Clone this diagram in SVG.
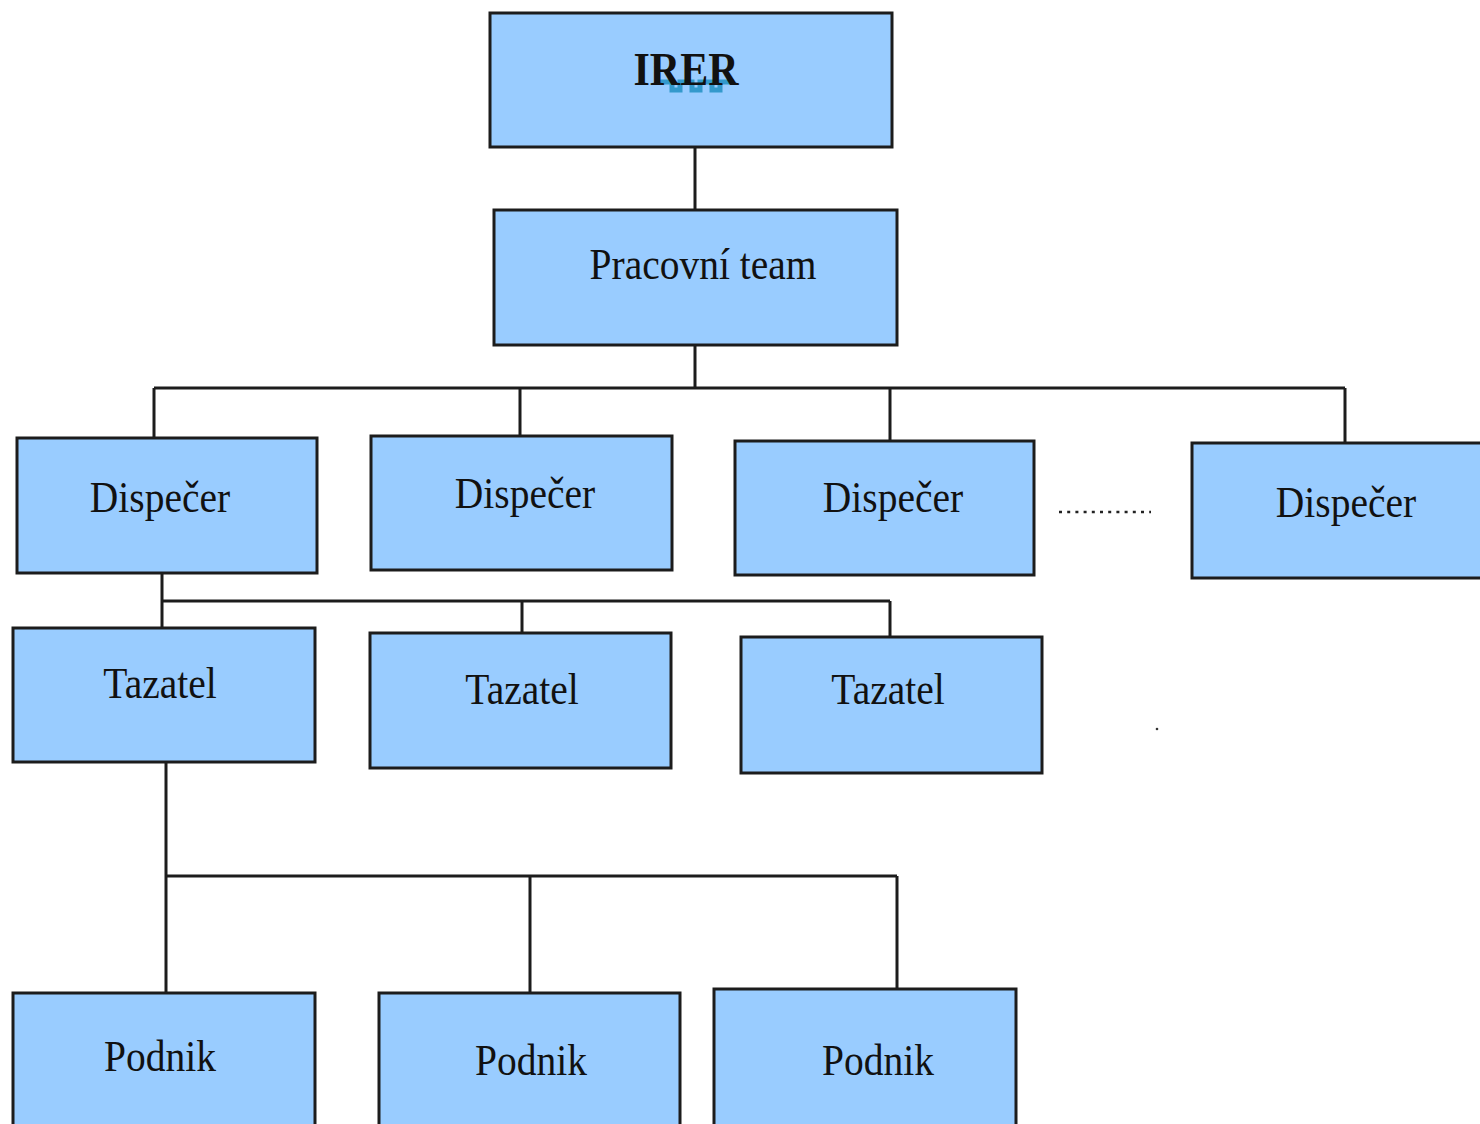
<svg xmlns="http://www.w3.org/2000/svg" width="1480" height="1124" viewBox="0 0 1480 1124">
<style>
.box{fill:#99CCFF;stroke:#1c1c1c;stroke-width:3}
.lbl{font-family:"Liberation Serif","Times New Roman",serif;font-size:39.5px;fill:#111;text-anchor:middle}
.b{font-weight:bold;font-size:42px}
.con{fill:none;stroke:#1c1c1c;stroke-width:3}
</style>
<rect width="1480" height="1124" fill="#ffffff"/>
<g id="connectors">
<path class="con" d="M695 147V210M695 345V388M154 388H1345M154 388V438M520 388V436M890 388V441M1345 388V443"/>
<path class="con" d="M162 573V628M162 601H890M522 601V633M890 601V637"/>
<path class="con" d="M166 762V993M166 876H897M530 876V993M897 876V989"/>
</g>
<g id="irer">
<rect class="box" x="490" y="13" width="402" height="134"/>
<path d="M660 82h12v8h8v-8h12v8h8v-8h12v8h8v-8h14" fill="none" stroke="#3399cc" stroke-width="5"/>
<text class="lbl b" transform="translate(686 85) scale(1 1.1)">IRER</text>
</g>
<g id="pracovni-team">
<rect class="box" x="494" y="210" width="403" height="135"/>
<text class="lbl" transform="translate(703 279) scale(1 1.12)">Pracovní team</text>
</g>
<g id="dispecer1">
<rect class="box" x="17" y="438" width="300" height="135"/>
<text class="lbl" transform="translate(160 512) scale(1 1.12)">Dispečer</text>
</g>
<g id="dispecer2">
<rect class="box" x="371" y="436" width="301" height="134"/>
<text class="lbl" transform="translate(525 508) scale(1 1.12)">Dispečer</text>
</g>
<g id="dispecer3">
<rect class="box" x="735" y="441" width="299" height="134"/>
<text class="lbl" transform="translate(893 512) scale(1 1.12)">Dispečer</text>
</g>
<g id="dots">
<line x1="1059" y1="512" x2="1151" y2="512" stroke="#222" stroke-width="2.5" stroke-dasharray="3 5.2"/>
</g>
<g id="dispecer4">
<rect class="box" x="1192" y="443" width="300" height="135"/>
<text class="lbl" transform="translate(1346 517) scale(1 1.12)">Dispečer</text>
</g>
<g id="tazatel1">
<rect class="box" x="13" y="628" width="302" height="134"/>
<text class="lbl" transform="translate(160 698) scale(1 1.12)">Tazatel</text>
</g>
<g id="tazatel2">
<rect class="box" x="370" y="633" width="301" height="135"/>
<text class="lbl" transform="translate(522 704) scale(1 1.12)">Tazatel</text>
</g>
<g id="tazatel3">
<rect class="box" x="741" y="637" width="301" height="136"/>
<text class="lbl" transform="translate(888 704) scale(1 1.12)">Tazatel</text>
</g>
<circle cx="1157" cy="729" r="1.3" fill="#333"/>
<g id="podnik1">
<rect class="box" x="13" y="993" width="302" height="140"/>
<text class="lbl" transform="translate(160 1071) scale(1 1.12)">Podnik</text>
</g>
<g id="podnik2">
<rect class="box" x="379" y="993" width="301" height="140"/>
<text class="lbl" transform="translate(531 1075) scale(1 1.12)">Podnik</text>
</g>
<g id="podnik3">
<rect class="box" x="714" y="989" width="302" height="144"/>
<text class="lbl" transform="translate(878 1075) scale(1 1.12)">Podnik</text>
</g>
</svg>
